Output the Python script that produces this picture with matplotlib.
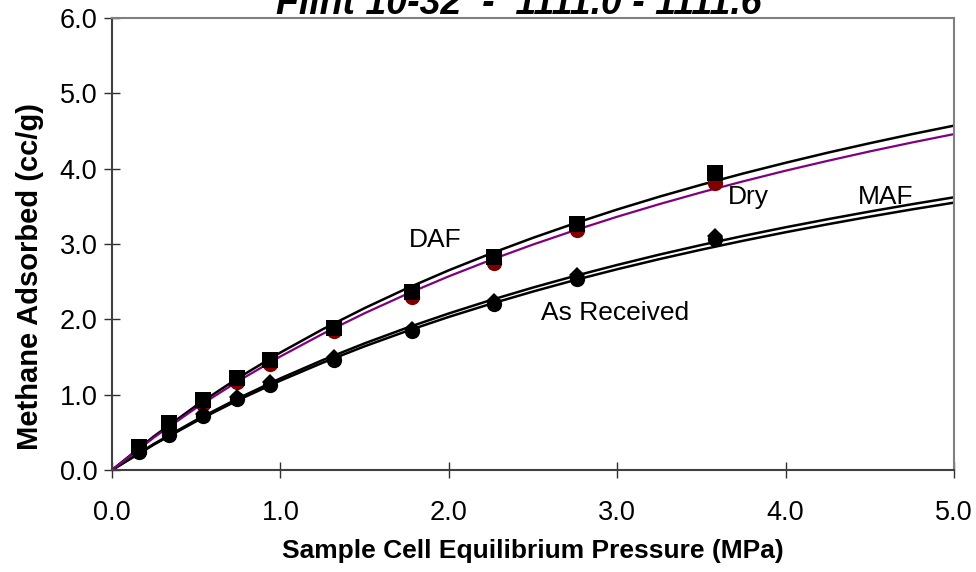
import matplotlib
matplotlib.use("Agg")
import matplotlib.pyplot as plt
from matplotlib.ticker import FormatStrFormatter

plt.rcParams['font.family'] = ['Liberation Sans', 'DejaVu Sans']

# measured points (MPa, cc/g)
pressure = [0.16, 0.34, 0.54, 0.74, 0.94, 1.32, 1.78, 2.27, 2.76, 3.58]
daf_pts = [0.30, 0.62, 0.93, 1.22, 1.46, 1.89, 2.36, 2.83, 3.26, 3.94]
dry_pts = [0.27, 0.57, 0.88, 1.17, 1.41, 1.84, 2.30, 2.75, 3.19, 3.81]
maf_pts = [0.26, 0.50, 0.75, 0.97, 1.17, 1.50, 1.87, 2.24, 2.59, 3.10]
ar_pts = [0.24, 0.47, 0.72, 0.94, 1.13, 1.46, 1.85, 2.20, 2.53, 3.06]

# fitted isotherm curves
fit_p = [0.0, 0.25, 0.5, 0.75, 1.0, 1.25, 1.5, 1.75, 2.0, 2.25, 2.5,
         2.75, 3.0, 3.25, 3.5, 3.75, 4.0, 4.25, 4.5, 4.75, 5.0]
daf_fit = [0.0, 0.449, 0.855, 1.223, 1.559, 1.867, 2.149, 2.410, 2.651, 2.874, 3.082,
           3.276, 3.458, 3.628, 3.787, 3.937, 4.078, 4.212, 4.338, 4.458, 4.571]
dry_fit = [0.0, 0.433, 0.825, 1.181, 1.507, 1.806, 2.081, 2.335, 2.571, 2.789, 2.993,
           3.183, 3.362, 3.529, 3.686, 3.833, 3.973, 4.104, 4.229, 4.347, 4.459]
maf_fit = [0.0, 0.348, 0.664, 0.952, 1.216, 1.458, 1.681, 1.887, 2.078, 2.256, 2.422,
           2.577, 2.722, 2.859, 2.987, 3.108, 3.222, 3.329, 3.431, 3.528, 3.620]
ar_fit = [0.0, 0.339, 0.647, 0.929, 1.186, 1.423, 1.642, 1.844, 2.032, 2.206, 2.369,
          2.522, 2.665, 2.799, 2.925, 3.044, 3.156, 3.262, 3.363, 3.459, 3.549]

title = "Flint 10-32  -  1111.0 - 1111.6"

fig = plt.figure(figsize=(9.76, 5.72), dpi=100)
ax = fig.add_axes([112/976, 102/572, 842/976, 452/572])

ax.plot(fit_p, ar_fit, color='black', lw=1.8, zorder=2)
ax.plot(fit_p, maf_fit, color='black', lw=1.8, zorder=2)
ax.plot(fit_p, daf_fit, color='black', lw=1.8, zorder=2)
ax.plot(fit_p, dry_fit, color='#800080', lw=1.6, zorder=2)

ax.plot(pressure, dry_pts, 'o', color='#800000', ms=11, mew=0, zorder=3)
ax.plot(pressure, daf_pts, 's', color='black', ms=11.3, mew=0, zorder=4)
ax.plot(pressure, maf_pts, 'D', color='black', ms=8.5, mew=0, zorder=3)
ax.plot(pressure, ar_pts, 'o', color='black', ms=11, mew=0, zorder=4)

ax.set_xlim(0, 5)
ax.set_ylim(0, 6)
ax.set_xticks([0, 1, 2, 3, 4, 5])
ax.set_yticks([0, 1, 2, 3, 4, 5, 6])
ax.xaxis.set_major_formatter(FormatStrFormatter('%.1f'))
ax.yaxis.set_major_formatter(FormatStrFormatter('%.1f'))
ax.tick_params(axis='both', direction='inout', length=11, width=1, color='#303030', labelsize=19.5)
ax.tick_params(axis='x', pad=16)
ax.tick_params(axis='y', pad=5)

for s in ['left', 'bottom']:
    ax.spines[s].set_color('#404040')
    ax.spines[s].set_linewidth(1.5)
for s in ['top', 'right']:
    ax.spines[s].set_color('#808080')
    ax.spines[s].set_linewidth(1.5)

ax.text(1.76, 3.05, "DAF", fontsize=19, va='center', ha='left')
ax.text(3.66, 3.62, "Dry", fontsize=19, va='center', ha='left')
ax.text(4.43, 3.62, "MAF", fontsize=19, va='center', ha='left')
ax.text(2.55, 2.08, "As Received", fontsize=19, va='center', ha='left')

fig.text(533/976, 1 - 551/572, "Sample Cell Equilibrium Pressure (MPa)",
         fontsize=19, fontweight='bold', ha='center', va='center')
fig.text(30/976, 1 - 276/572, "Methane Adsorbed (cc/g)", rotation=90,
         fontsize=21, fontweight='bold', ha='center', va='center')
fig.text(519/976, 1 - 13.5/572, title, fontsize=27, fontweight='bold',
         fontstyle='italic', ha='center', va='baseline')

fig.savefig("out.png", dpi=100)
